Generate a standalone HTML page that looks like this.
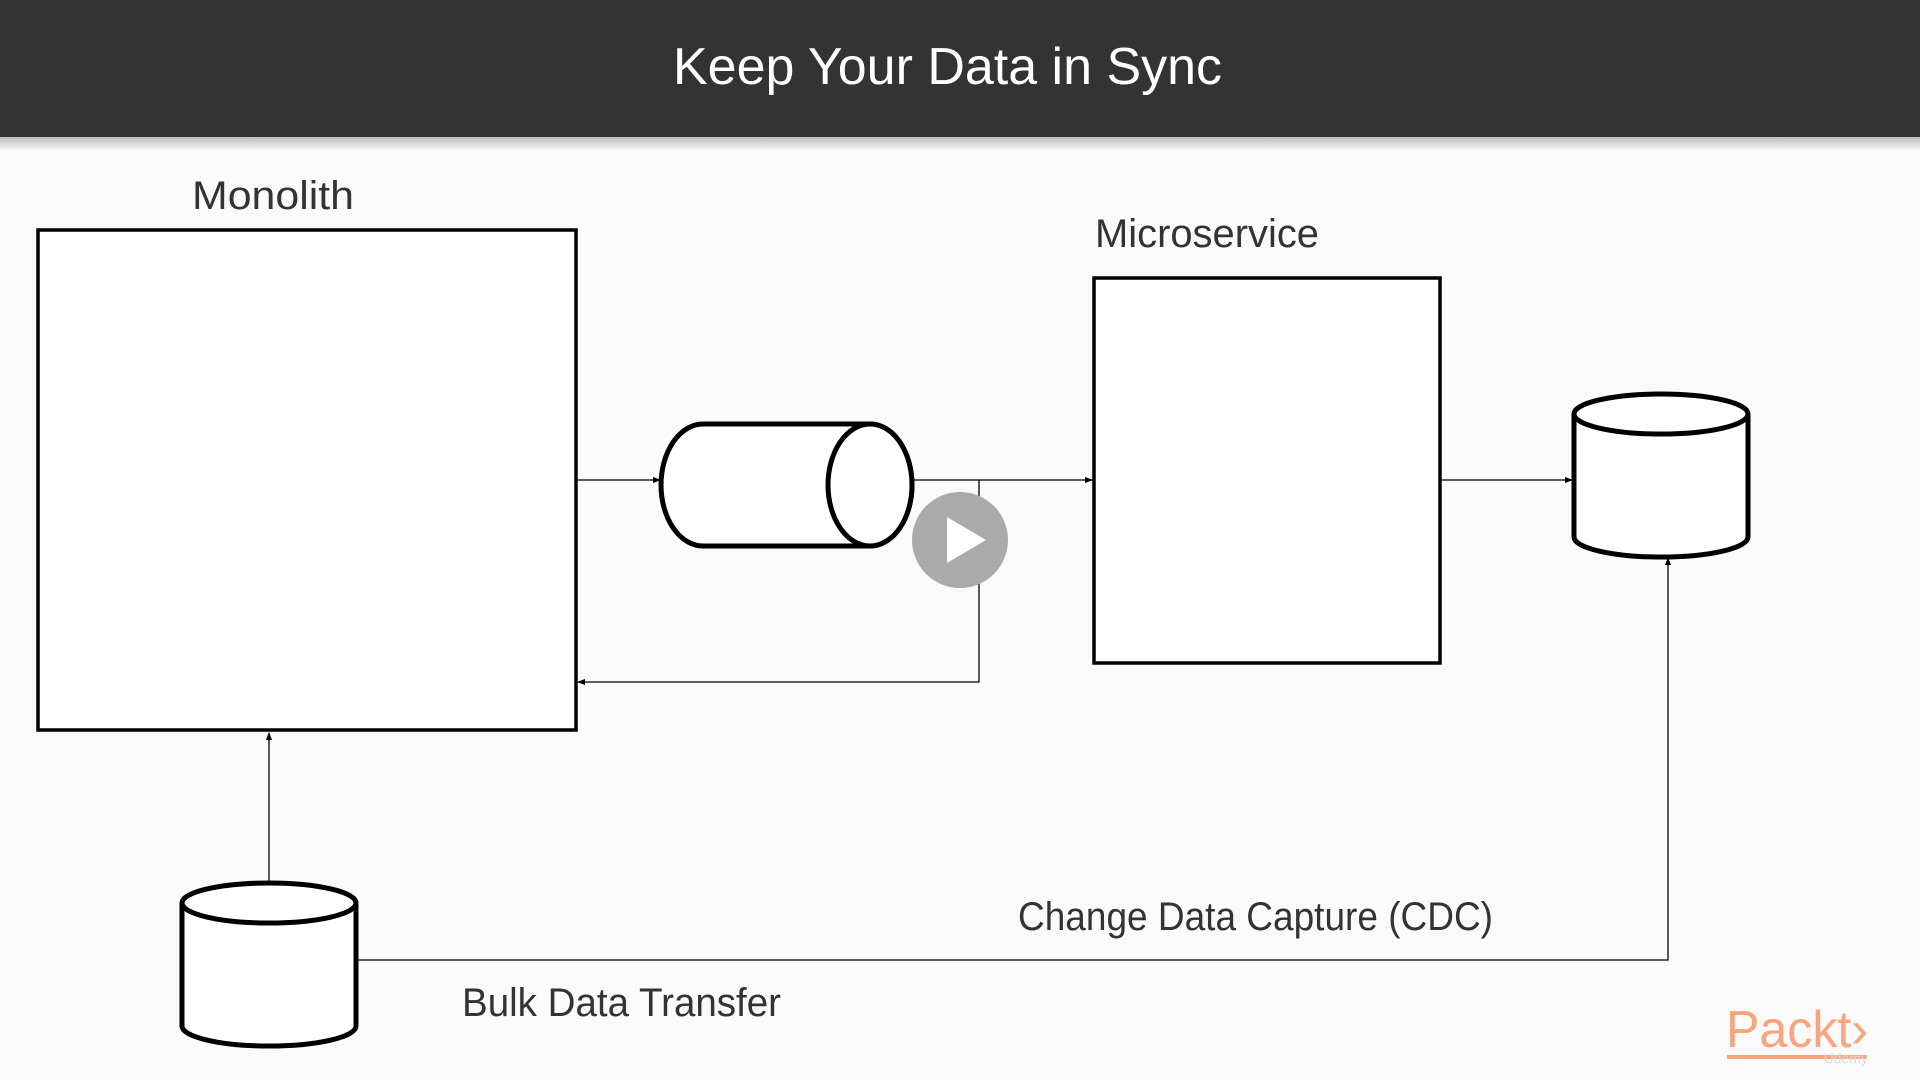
<!DOCTYPE html>
<html><head><meta charset="utf-8"><style>
html,body{margin:0;padding:0;width:1920px;height:1080px;overflow:hidden;background:#fafafa;}
svg{display:block}
</style></head><body>
<svg width="1920" height="1080" viewBox="0 0 1920 1080" xmlns="http://www.w3.org/2000/svg">
<defs>
<linearGradient id="sh" x1="0" y1="0" x2="0" y2="1"><stop offset="0" stop-color="#bbb"/><stop offset="1" stop-color="#fafafa"/></linearGradient>
<marker id="ar" markerWidth="8" markerHeight="8" refX="7" refY="4" orient="auto" markerUnits="userSpaceOnUse"><path d="M0,1 L8,4 L0,7 Z" fill="#000"/></marker>
</defs>
<rect x="0" y="0" width="1920" height="1080" fill="#fafafa"/>
<rect x="0" y="137" width="1920" height="14" fill="url(#sh)"/>
<rect x="0" y="0" width="1920" height="137" fill="#333"/>
<text x="673" y="84" font-family="Liberation Sans, sans-serif" font-size="52" fill="#fff" textLength="549" lengthAdjust="spacingAndGlyphs">Keep Your Data in Sync</text>
<g font-family="Liberation Sans, sans-serif" font-size="40" fill="#333">
<text x="192" y="209" textLength="162" lengthAdjust="spacingAndGlyphs">Monolith</text>
<text x="1095" y="247" textLength="224" lengthAdjust="spacingAndGlyphs">Microservice</text>
<text x="1018" y="930" textLength="475" lengthAdjust="spacingAndGlyphs">Change Data Capture (CDC)</text>
<text x="462" y="1016" textLength="319" lengthAdjust="spacingAndGlyphs">Bulk Data Transfer</text>
</g>
<!-- boxes -->
<rect x="38" y="230" width="538" height="500" fill="#fff" stroke="#000" stroke-width="3.5"/>
<rect x="1094" y="278" width="346" height="385" fill="#fff" stroke="#000" stroke-width="3.5"/>
<!-- connectors -->
<g stroke="#000" stroke-width="1.3" fill="none">
<line x1="578" y1="480" x2="660" y2="480" marker-end="url(#ar)"/>
<line x1="913" y1="480" x2="1092" y2="480" marker-end="url(#ar)"/>
<polyline points="979,480 979,682 578,682" marker-end="url(#ar)"/>
<line x1="1442" y1="480" x2="1572" y2="480" marker-end="url(#ar)"/>
<line x1="269" y1="883" x2="269" y2="733" marker-end="url(#ar)"/>
<polyline points="357,960 1668,960 1668,558" marker-end="url(#ar)"/>
</g>
<!-- horizontal cylinder -->
<g stroke="#000" stroke-width="5" fill="#fff">
<path d="M703,424 L870,424 A42,61 0 0 1 870,546 L703,546 A42,61 0 0 1 703,424 Z"/>
<ellipse cx="870" cy="485" rx="42" ry="61"/>
</g>
<!-- right db -->
<g stroke="#000" stroke-width="5" fill="#fff">
<path d="M1574,414 L1574,537 A87,20 0 0 0 1748,537 L1748,414"/>
<ellipse cx="1661" cy="414" rx="87" ry="20"/>
</g>
<!-- bottom db -->
<g stroke="#000" stroke-width="5" fill="#fff">
<path d="M182,903 L182,1026 A87,20 0 0 0 356,1026 L356,903"/>
<ellipse cx="269" cy="903" rx="87" ry="20"/>
</g>
<!-- play -->
<circle cx="960" cy="540" r="48" fill="#aaa"/>
<path d="M947,517 L947,563 L986,540 Z" fill="#fff"/>
<!-- logo -->
<text x="1726" y="1047" font-family="Liberation Sans, sans-serif" font-size="52" fill="#f9a47c" textLength="142" lengthAdjust="spacingAndGlyphs">Packt&#8250;</text>
<rect x="1727" y="1055" width="140" height="4" fill="#f9a47c"/>
<text x="1868" y="1063" font-family="Liberation Sans, sans-serif" font-size="14" fill="#ddd" text-anchor="end">Udemy</text>
</svg>
</body></html>
